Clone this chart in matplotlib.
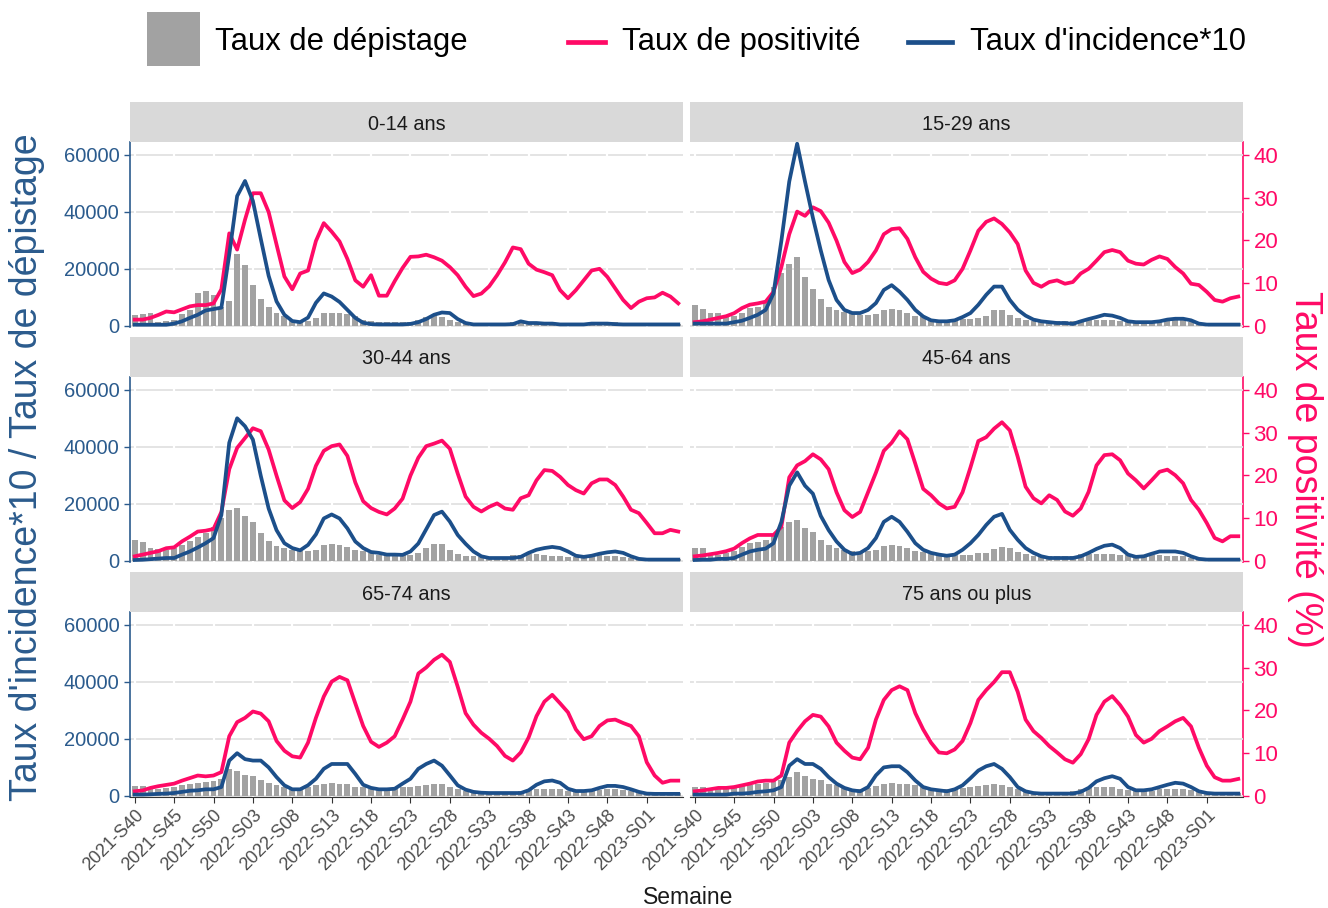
import matplotlib
matplotlib.use('Agg')
import matplotlib.pyplot as plt
import numpy as np
from matplotlib.patches import Rectangle
from matplotlib.lines import Line2D

plt.rcParams['font.family'] = ['Liberation Sans', 'DejaVu Sans']

# semaines 2021-S40 .. 2023-S05
weeks = ['2021-S%02d' % w for w in range(40, 53)] + \
        ['2022-S%02d' % w for w in range(1, 53)] + \
        ['2023-S%02d' % w for w in range(1, 6)]

ages = ['0-14 ans', '15-29 ans', '30-44 ans', '45-64 ans', '65-74 ans', '75 ans ou plus']

# taux de positivite (%)
pos_0_14 = [1.4, 1.4, 1.8, 2.5, 3.3, 3.1, 3.8, 4.5, 4.8, 4.8,
            5.2, 8.5, 21.6, 17.8, 24.8, 31.0, 31.0, 26.6, 19.0, 11.5,
            8.5, 12.2, 12.9, 19.8, 24.0, 22.0, 19.7, 15.6, 10.6, 9.1,
            11.8, 7.0, 7.0, 10.4, 13.5, 16.1, 16.2, 16.6, 16.0, 15.2,
            13.7, 11.8, 9.1, 6.9, 7.5, 9.2, 11.8, 14.8, 18.3, 17.9,
            14.5, 13.1, 12.5, 11.8, 8.3, 6.4, 8.3, 10.6, 12.9, 13.3,
            11.4, 8.7, 6.0, 4.1, 5.6, 6.4, 6.6, 7.7, 6.8, 5.2]
pos_15_29 = [0.8, 1.0, 1.4, 1.8, 2.2, 2.9, 4.1, 4.9, 5.2, 5.6,
             7.9, 13.7, 21.4, 26.7, 25.7, 27.7, 26.8, 24.1, 19.9, 14.9,
             12.3, 13.1, 14.9, 17.6, 21.4, 22.6, 22.8, 20.3, 16.0, 12.6,
             11.0, 10.0, 9.7, 10.6, 13.3, 17.6, 22.2, 24.3, 25.1, 23.8,
             21.8, 19.1, 12.9, 10.0, 9.1, 10.2, 10.6, 9.8, 10.2, 12.2,
             13.3, 15.2, 17.2, 17.7, 17.2, 15.2, 14.5, 14.3, 15.4, 16.2,
             15.6, 13.7, 12.2, 9.8, 9.5, 7.9, 6.0, 5.6, 6.4, 6.8]
pos_30_44 = [1.0, 1.4, 1.8, 2.2, 2.9, 3.1, 4.5, 5.6, 6.8, 7.0,
             7.4, 11.4, 21.4, 26.4, 28.7, 31.0, 30.3, 26.0, 19.9, 14.1,
             12.3, 13.7, 16.8, 22.2, 25.7, 26.8, 27.2, 24.5, 18.3, 13.9,
             12.3, 11.4, 10.8, 12.2, 14.5, 19.9, 24.1, 26.8, 27.4, 28.1,
             26.2, 20.4, 15.0, 12.6, 11.5, 12.6, 13.4, 12.2, 11.9, 14.6,
             15.3, 18.8, 21.2, 21.0, 19.6, 17.7, 16.5, 15.7, 18.1, 19.0,
             19.0, 17.7, 15.0, 11.9, 11.1, 8.8, 6.4, 6.4, 7.2, 6.8]
pos_45_64 = [1.0, 1.2, 1.5, 1.8, 2.2, 2.8, 4.1, 5.2, 6.0, 6.0,
             6.0, 7.9, 19.5, 22.3, 23.3, 24.9, 23.7, 21.4, 16.0, 11.8,
             10.2, 11.4, 16.0, 20.6, 25.7, 27.6, 30.3, 28.4, 22.7, 16.8,
             15.3, 13.4, 12.2, 12.6, 16.0, 21.8, 28.0, 28.9, 30.9, 32.4,
             30.5, 24.3, 17.3, 14.6, 13.4, 15.3, 14.2, 11.5, 10.5, 12.2,
             16.1, 22.3, 24.7, 24.9, 23.5, 20.4, 18.8, 16.9, 18.8, 20.8,
             21.3, 20.0, 18.1, 14.2, 11.9, 8.8, 5.3, 4.5, 5.7, 5.7]
pos_65_74 = [1.0, 1.2, 1.8, 2.2, 2.5, 2.8, 3.5, 4.1, 4.7, 4.5,
             4.7, 5.5, 13.9, 17.2, 18.2, 19.7, 19.2, 17.4, 12.8, 10.5,
             9.2, 8.9, 12.4, 18.2, 23.2, 26.7, 27.8, 27.0, 21.6, 16.3,
             12.6, 11.4, 12.4, 13.9, 17.8, 22.0, 28.6, 30.0, 31.8, 33.0,
             31.3, 25.5, 19.3, 16.6, 14.7, 13.3, 11.6, 9.3, 8.2, 10.1,
             13.6, 18.6, 22.0, 23.6, 21.6, 19.5, 15.5, 13.2, 13.9, 16.3,
             17.6, 17.8, 17.0, 16.3, 13.9, 7.8, 4.7, 3.0, 3.5, 3.5]
pos_75 = [1.0, 1.2, 1.5, 1.8, 1.8, 2.0, 2.4, 2.8, 3.3, 3.5,
          3.5, 4.7, 12.4, 15.1, 17.4, 18.9, 18.5, 16.2, 12.4, 10.5,
          8.9, 8.5, 11.2, 17.8, 22.4, 24.7, 25.6, 24.7, 19.3, 15.5,
          12.4, 10.1, 9.9, 10.8, 12.8, 17.0, 22.4, 24.7, 26.6, 28.9,
          28.9, 24.3, 17.8, 15.1, 13.5, 11.6, 10.1, 8.5, 7.7, 9.7,
          13.2, 18.9, 22.0, 23.3, 21.2, 18.5, 14.2, 12.4, 13.3, 15.1,
          16.2, 17.4, 18.2, 16.2, 11.2, 7.0, 4.3, 3.5, 3.5, 3.9]

# taux d'incidence * 10
inc_0_14 = [300, 300, 300, 300, 300, 700, 1500, 2700, 3800, 5300,
            5800, 6300, 25000, 45500, 50800, 43800, 30500, 17500, 8500, 3800,
            1600, 1200, 2800, 8000, 11300, 10200, 8300, 5500, 2700, 1000,
            500, 400, 400, 400, 400, 600, 1200, 2300, 3800, 4600,
            4400, 2300, 900, 400, 400, 400, 400, 400, 500, 1500,
            900, 900, 700, 700, 400, 400, 400, 400, 700, 700,
            700, 500, 400, 400, 400, 400, 400, 400, 400, 400]
inc_15_29 = [700, 700, 700, 700, 700, 1200, 1700, 2700, 3800, 5500,
             11300, 29800, 50600, 63900, 50600, 37900, 26400, 16000, 9000, 5500,
             4400, 4400, 5500, 7900, 12500, 14200, 11900, 9000, 5500, 3200,
             1850, 1500, 1500, 1850, 3000, 4400, 7300, 10800, 13700, 13700,
             9000, 5600, 3500, 2100, 1500, 1200, 900, 900, 600, 1500,
             2300, 3000, 3800, 3500, 2700, 1500, 1200, 1200, 1200, 1500,
             2100, 2400, 2400, 1850, 700, 350, 350, 350, 350, 350]
inc_30_44 = [200, 300, 500, 700, 900, 900, 2100, 3200, 4600, 6100,
             7900, 16000, 41400, 50000, 47200, 42500, 29800, 18300, 10700, 6100,
             4400, 3600, 5500, 9200, 14800, 16200, 14800, 11300, 6700, 4400,
             3000, 2700, 2100, 2100, 2000, 3200, 6000, 11000, 16000, 17200,
             13700, 9000, 5900, 3200, 1500, 900, 900, 900, 900, 1300,
             2700, 3800, 4400, 4800, 4400, 3200, 1700, 1300, 1700, 2400,
             2900, 3200, 2700, 1500, 600, 350, 350, 350, 350, 350]
inc_45_64 = [200, 300, 300, 600, 600, 900, 2100, 3200, 3800, 4200,
             6100, 13600, 26300, 31000, 26300, 23500, 15700, 10700, 6700, 3800,
             2300, 2700, 4400, 7900, 13600, 15400, 13600, 10100, 6100, 3800,
             2700, 2100, 1700, 2100, 3800, 6100, 9000, 12500, 15400, 16400,
             10800, 7300, 4400, 2700, 1500, 900, 900, 900, 900, 1500,
             2700, 4100, 5200, 5600, 4400, 2100, 1300, 1500, 2400, 3200,
             3200, 3200, 2700, 1500, 600, 350, 350, 350, 350, 350]
inc_65_74 = [350, 350, 450, 600, 700, 900, 1300, 1700, 1850, 2200,
             2200, 3000, 12300, 14900, 12800, 12300, 12300, 9900, 6500, 3600,
             2200, 2200, 3600, 5900, 9400, 11100, 11100, 11100, 7600, 3800,
             2700, 2200, 2200, 2400, 4200, 5900, 9400, 11100, 12300, 10500,
             7100, 3600, 2100, 1300, 1000, 900, 900, 900, 900, 900,
             1850, 3800, 5000, 5300, 4500, 2400, 1600, 1600, 1850, 2700,
             3400, 3400, 3000, 2200, 1300, 700, 600, 600, 600, 600]
inc_75 = [350, 350, 350, 350, 350, 700, 700, 900, 1300, 1500,
          1850, 3000, 10500, 12800, 11100, 11100, 9400, 6500, 4200, 2700,
          1850, 1500, 3000, 7100, 9900, 10300, 10300, 8200, 5300, 3000,
          2200, 1850, 1500, 2200, 3600, 6100, 8800, 10300, 11100, 9400,
          6500, 3000, 1500, 900, 700, 700, 700, 700, 700, 1300,
          2700, 5000, 6100, 6800, 5900, 3000, 1850, 1850, 2200, 3000,
          3800, 4500, 4200, 3000, 1500, 900, 700, 700, 700, 700]

# taux de depistage
dep_0_14 = [3600, 4200, 4400, 1200, 1500, 2100, 4200, 5500, 11600, 12000,
            10800, 6500, 8800, 25200, 21400, 14300, 9300, 6700, 4400, 3200,
            1500, 1200, 1500, 2700, 4400, 4400, 4400, 4200, 3500, 2100,
            1500, 1200, 1200, 1200, 1200, 1200, 1850, 3000, 3200, 3000,
            2100, 1200, 900, 900, 900, 900, 900, 900, 1200, 1500,
            1200, 1200, 1200, 900, 900, 900, 900, 900, 1200, 1200,
            1200, 1200, 700, 700, 700, 700, 700, 700, 700, 700]
dep_15_29 = [7300, 6000, 4400, 4400, 3200, 3500, 4400, 6100, 6700, 7900,
             13600, 18500, 21700, 24000, 17100, 13000, 9200, 6700, 5300, 4600,
             4400, 3800, 3800, 4200, 5300, 5900, 5400, 4400, 3500, 3200,
             2300, 2100, 2100, 2100, 2300, 2400, 2700, 3500, 5300, 5600,
             3800, 2700, 2100, 1500, 1500, 1500, 1500, 1500, 1500, 1850,
             2100, 2100, 2100, 1850, 1500, 1300, 1300, 1300, 1300, 1850,
             2100, 2100, 1850, 1300, 900, 900, 900, 900, 900, 900]
dep_30_44 = [7300, 6500, 4400, 4200, 3800, 4400, 5500, 6900, 8400, 9600,
             11900, 14800, 17900, 18500, 15700, 13600, 9600, 7000, 5000, 4400,
             3800, 3500, 3500, 3800, 5300, 5800, 5300, 4600, 3800, 3200,
             2700, 2100, 2100, 2300, 2100, 2100, 2700, 4300, 5900, 5900,
             3600, 2400, 1700, 1500, 1300, 1300, 1300, 1300, 2100, 2100,
             2200, 2200, 2000, 1700, 1500, 1300, 1300, 1500, 1700, 1900,
             1700, 1500, 1300, 800, 600, 600, 600, 600, 600, 600]
dep_45_64 = [4400, 4400, 2700, 2100, 2700, 3500, 4600, 6100, 6400, 7300,
             9000, 11900, 13600, 14200, 11300, 9900, 7300, 5500, 4400, 3800,
             3200, 3000, 3200, 3800, 5000, 5500, 5000, 4400, 3500, 3000,
             2300, 2100, 2100, 2100, 2100, 2100, 2700, 2700, 4100, 4800,
             4400, 2900, 2300, 1500, 1500, 1500, 1500, 1500, 1700, 2300,
             2300, 2300, 2300, 2300, 2100, 2100, 2100, 2100, 2100, 2100,
             1700, 1700, 1500, 900, 600, 600, 600, 600, 600, 600]
dep_65_74 = [3400, 3400, 2700, 2400, 2700, 3000, 3600, 4200, 4500, 4700,
             5200, 5900, 9400, 8800, 7300, 6800, 5300, 4500, 3600, 3000,
             2700, 2700, 3000, 3800, 4200, 4500, 4200, 4200, 3000, 3000,
             2400, 2200, 2200, 2200, 3000, 3000, 3400, 3800, 4200, 3900,
             2900, 2200, 1600, 1300, 1300, 1300, 1300, 1300, 1300, 1500,
             1850, 2200, 2400, 2400, 2200, 1700, 1500, 1500, 1500, 1850,
             2200, 2200, 1850, 1500, 1300, 1000, 900, 900, 900, 900]
dep_75 = [3000, 3000, 2700, 2400, 2400, 3000, 3600, 3800, 4200, 4500,
          5000, 5300, 6500, 8400, 6800, 5900, 5300, 4200, 3600, 3000,
          2400, 2200, 2700, 3400, 4200, 4500, 4200, 4200, 3600, 3000,
          2400, 2200, 2200, 2200, 2700, 3000, 3400, 3800, 4000, 3800,
          3000, 2200, 1500, 1300, 1300, 1300, 1300, 1300, 1500, 2200,
          2900, 3000, 2900, 2900, 2400, 1850, 1700, 1700, 1700, 2200,
          2400, 2400, 2200, 1850, 1300, 1300, 1000, 1000, 1000, 1000]

positivite = [pos_0_14, pos_15_29, pos_30_44, pos_45_64, pos_65_74, pos_75]
incidence = [inc_0_14, inc_15_29, inc_30_44, inc_45_64, inc_65_74, inc_75]
depistage = [dep_0_14, dep_15_29, dep_30_44, dep_45_64, dep_65_74, dep_75]

BLUE = '#1c4f8a'
BLUE_TXT = '#2b5b8d'
PINK = '#ff0a66'
GREY = '#a2a2a2'
STRIP = '#d9d9d9'
GRID = '#e2e2e2'
K = 1500.0  # 1 % de positivite = 1500 sur l'axe de gauche

fig = plt.figure(figsize=(13.28, 9.08), dpi=100)
W, H = 1328.0, 908.0
col_x = [130, 690]
pw, ph, sh = 553, 185, 40
row_top = [142, 377, 612]

x = np.arange(len(weeks))
tick_pos = list(range(0, len(weeks), 5))

for k, age in enumerate(ages):
    r, c = k // 2, k % 2
    ax = fig.add_axes([col_x[c] / W, 1 - (row_top[r] + ph) / H, pw / W, ph / H])
    ax.bar(x, depistage[k], width=0.75, color=GREY, zorder=2)
    ax.plot(x, np.array(positivite[k]) * K, color=PINK, lw=2.7, zorder=3)
    ax.plot(x, incidence[k], color=BLUE, lw=2.7, zorder=4)
    ax.set_xlim(-0.6, len(weeks) - 0.4)
    ax.set_ylim(-500, 64500)
    for yv in [0, 20000, 40000, 60000]:
        ax.axhline(yv, color=GRID, lw=1.3, zorder=0.5)
    for xv in tick_pos:
        ax.axvline(xv, color='white', lw=1.6, zorder=0.6)
    for s in ax.spines.values():
        s.set_visible(False)
    ax.set_yticks([0, 20000, 40000, 60000])
    ax.set_xticks(tick_pos)

    if c == 0:
        ax.spines['left'].set_visible(True)
        ax.spines['left'].set_color(BLUE_TXT)
        ax.spines['left'].set_linewidth(1.2)
        ax.tick_params(axis='y', colors=BLUE_TXT, labelsize=14.5, length=4, width=1)
    else:
        ax.tick_params(axis='y', left=False, labelleft=False)
        sec = ax.secondary_yaxis('right', functions=(lambda v: v / K, lambda p: p * K))
        sec.set_yticks([0, 10, 20, 30, 40])
        sec.spines['right'].set_color(PINK)
        sec.spines['right'].set_linewidth(1.2)
        sec.tick_params(colors=PINK, labelsize=16, length=4, width=1)

    if r == 2:
        ax.spines['bottom'].set_visible(True)
        ax.spines['bottom'].set_color('#333333')
        ax.spines['bottom'].set_linewidth(0.8)
        ax.set_xticklabels([weeks[i] for i in tick_pos], rotation=45, ha='right',
                           rotation_mode='anchor', fontsize=13, color='#4d4d4d')
        ax.tick_params(axis='x', length=4, color='#333333', pad=3)
    else:
        ax.tick_params(axis='x', bottom=False, labelbottom=False)

    sax = fig.add_axes([col_x[c] / W, 1 - row_top[r] / H, pw / W, sh / H])
    sax.set_facecolor(STRIP)
    sax.set_xticks([])
    sax.set_yticks([])
    for s in sax.spines.values():
        s.set_visible(False)
    sax.text(0.5, 0.45, age, ha='center', va='center', fontsize=14.3, color='#1a1a1a',
             transform=sax.transAxes)

# titres des axes
fig.text(27 / W, 1 - 467 / H, "Taux d'incidence*10 / Taux de dépistage", rotation=90,
         ha='center', va='center', fontsize=27, color=BLUE_TXT)
fig.text(1305 / W, 1 - 469 / H, 'Taux de positivité (%)', rotation=270,
         ha='center', va='center', fontsize=27, color=PINK)
fig.text(688 / W, 1 - 897 / H, 'Semaine', ha='center', va='center', fontsize=16.5,
         color='#1a1a1a')

# legende
ly = 1 - 42 / H
fig.add_artist(Rectangle((147 / W, 1 - 66 / H), 53 / W, 54 / H, facecolor=GREY,
                         edgecolor='none', transform=fig.transFigure))
fig.text(215 / W, ly, 'Taux de dépistage', ha='left', va='center', fontsize=22.3)
fig.add_artist(Line2D([568 / W, 605 / W], [ly, ly], color=PINK, lw=3.4,
                      transform=fig.transFigure))
fig.text(622 / W, ly, 'Taux de positivité', ha='left', va='center', fontsize=22.3)
fig.add_artist(Line2D([908 / W, 952 / W], [ly, ly], color=BLUE, lw=3.4,
                      transform=fig.transFigure))
fig.text(970 / W, ly, "Taux d'incidence*10", ha='left', va='center', fontsize=22.3)

fig.savefig('out.png', dpi=100, facecolor='white')
